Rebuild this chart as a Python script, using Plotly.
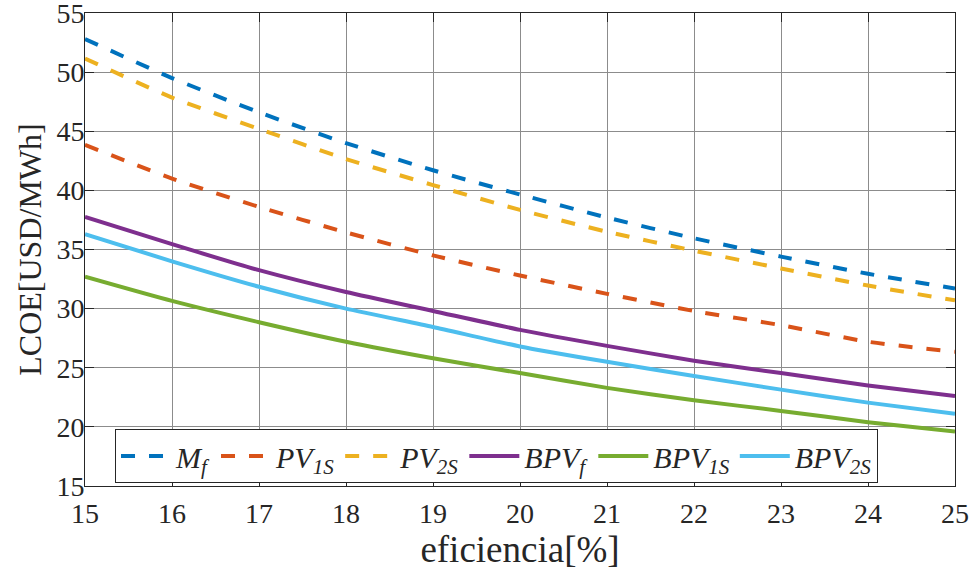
import plotly.graph_objects as go

# Efficiency (%) and LCOE (USD/MWh) for each configuration
eficiencia = [15, 16, 17, 18, 19, 20, 21, 22, 23, 24, 25]
lcoe_mf    = [52.8, 49.5, 46.6, 44.0, 41.7, 39.65, 37.7, 35.95, 34.4, 32.95, 31.7]
lcoe_pv1s  = [43.85, 41.0, 38.6, 36.45, 34.5, 32.8, 31.25, 29.8, 28.6, 27.2, 26.35]
lcoe_pv2s  = [51.15, 47.85, 45.2, 42.65, 40.45, 38.35, 36.5, 34.9, 33.4, 31.95, 30.7]
lcoe_bpvf  = [37.75, 35.45, 33.25, 31.4, 29.8, 28.2, 26.85, 25.6, 24.55, 23.5, 22.6]
lcoe_bpv1s = [32.7, 30.65, 28.85, 27.2, 25.8, 24.55, 23.3, 22.25, 21.35, 20.4, 19.6]
lcoe_bpv2s = [36.3, 34.0, 31.85, 30.0, 28.45, 26.8, 25.5, 24.3, 23.15, 22.05, 21.1]

names = ["<i>M<sub>f</sub></i>", "<i>PV<sub>1S</sub></i>", "<i>PV<sub>2S</sub></i>",
         "<i>BPV<sub>f</sub></i>", "<i>BPV<sub>1S</sub></i>", "<i>BPV<sub>2S</sub></i>"]
series = [lcoe_mf, lcoe_pv1s, lcoe_pv2s, lcoe_bpvf, lcoe_bpv1s, lcoe_bpv2s]
colors = ["#0072BD", "#D95319", "#EDB120", "#7E2F8E", "#77AC30", "#4DBEEE"]
dashes = ["14px,14px", "14px,14px", "14px,14px", "solid", "solid", "solid"]

FONT = "Liberation Serif"
INK = "#262626"

fig = go.Figure()
for name, ys, c, d in zip(names, series, colors, dashes):
    fig.add_trace(go.Scatter(
        x=eficiencia, y=ys, name=name, mode="lines",
        line=dict(color=c, width=4, dash=d, shape="spline", smoothing=0.6),
    ))

axis_common = dict(
    showline=True, linecolor=INK, linewidth=1, mirror="ticks",
    ticks="inside", ticklen=9, tickcolor=INK, tickwidth=1,
    showgrid=True, gridcolor="#8c8c8c", gridwidth=1, zeroline=False,
    tickfont=dict(family=FONT, size=28, color=INK),
    ticklabeloverflow="allow", automargin=False,
)

fig.update_xaxes(
    range=[15, 25], dtick=1, tick0=15, ticklabelstandoff=2,
    title=dict(text="eficiencia[%]", font=dict(family=FONT, size=37, color=INK), standoff=4),
    **axis_common,
)
fig.update_yaxes(
    range=[15, 55], dtick=5, tick0=15, ticklabelstandoff=-6,
    title=dict(text="LCOE[USD/MWh]", font=dict(family=FONT, size=32, color=INK), standoff=5),
    **axis_common,
)

fig.update_layout(
    width=979, height=573,
    margin=dict(l=85, r=24, t=13, b=87),
    paper_bgcolor="white", plot_bgcolor="white",
    font=dict(family=FONT),
    showlegend=True,
    legend=dict(
        orientation="h", x=0.0345, y=0.0634, xanchor="left", yanchor="middle",
        bgcolor="white", bordercolor=INK, borderwidth=1,
        font=dict(family=FONT, size=30, color=INK),
        itemwidth=50, tracegroupgap=0,
    ),
)

fig.write_html("out.html")
